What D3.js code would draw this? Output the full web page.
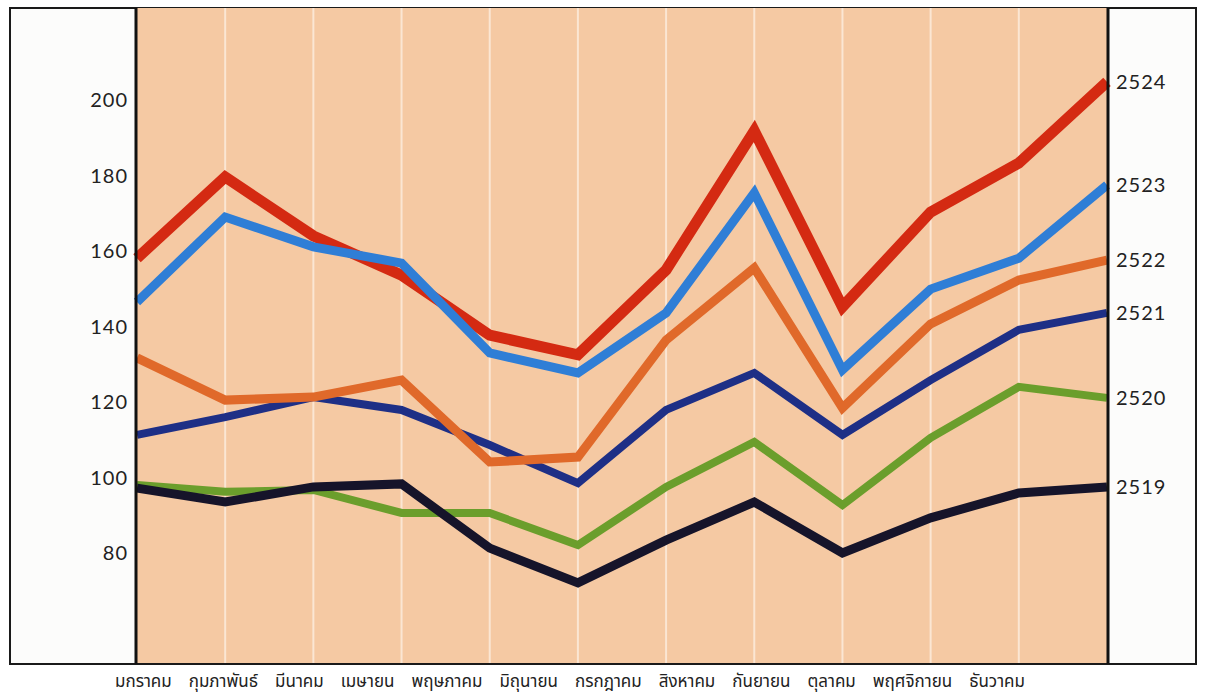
<!DOCTYPE html>
<html>
<head>
<meta charset="utf-8">
<script src="https://cdnjs.cloudflare.com/ajax/libs/d3/7.8.5/d3.min.js"></script>
<style>
  body { margin: 0; background: #fff; }
  svg { display: block; }
</style>
</head>
<body>
<div id="chart"></div>
<script>
// months (Thai)
var months = ["มกราคม", "กุมภาพันธ์", "มีนาคม", "เมษายน", "พฤษภาคม", "มิถุนายน",
              "กรกฎาคม", "สิงหาคม", "กันยายน", "ตุลาคม", "พฤศจิกายน", "ธันวาคม"];
var yTicks = [80, 100, 120, 140, 160, 180, 200];

// series values, one per year
var v2524 = [158.1, 179.6, 164.0, 153.6, 137.7, 132.5, 155.0, 191.8, 145.2, 170.3, 183.3, 204.8];
var v2523 = [146.5, 169.0, 161.1, 156.8, 133.0, 127.7, 143.6, 175.4, 128.5, 149.9, 158.1, 177.5];
var v2522 = [131.7, 120.5, 121.3, 125.8, 104.1, 105.4, 136.4, 155.5, 118.4, 140.7, 152.3, 157.6];
var v2521 = [111.3, 116.0, 121.3, 117.9, 108.6, 98.5, 117.9, 127.7, 111.3, 125.8, 139.1, 143.6];
var v2520 = [98.0, 96.2, 96.7, 90.6, 90.6, 82.1, 97.5, 109.4, 92.7, 110.5, 124.0, 121.1];
var v2519 = [97.2, 93.5, 97.5, 98.3, 81.3, 72.1, 83.4, 93.5, 80.0, 89.3, 95.9, 97.5];

// drawing order follows the overlaps in the picture
var series = [
    {year: "2521", values: v2521, color: "#1e2f86", width: 8},
    {year: "2522", values: v2522, color: "#e0692a", width: 9},
    {year: "2520", values: v2520, color: "#6b9e2c", width: 8},
    {year: "2519", values: v2519, color: "#16142a", width: 9},
    {year: "2524", values: v2524, color: "#d42a12", width: 11},
    {year: "2523", values: v2523, color: "#2f7ed6", width: 9}
];

var width = 1205, height = 699;
var frame = {left: 10, top: 8, right: 1196, bottom: 664};
var plot = {left: 137, right: 1107, top: 8, bottom: 663};

var svg = d3.select("#chart").append("svg")
    .attr("width", width).attr("height", height);

var x = d3.scalePoint().domain(months).range([plot.left, plot.right]);
var y = d3.scaleLinear().domain([80, 200]).range([553, 100]);

// outer frame
svg.append("rect")
    .attr("x", frame.left).attr("y", frame.top)
    .attr("width", frame.right - frame.left).attr("height", frame.bottom - frame.top)
    .attr("fill", "#fcfcfb").attr("stroke", "#1a1a1a").attr("stroke-width", 2);

// peach plot area
svg.append("rect")
    .attr("x", plot.left).attr("y", plot.top)
    .attr("width", plot.right - plot.left).attr("height", plot.bottom - plot.top)
    .attr("fill", "#f5c9a3");

// vertical grid lines
svg.append("g").selectAll("line")
    .data(months.slice(1, -1))
    .enter().append("line")
    .attr("x1", function(d) { return x(d); })
    .attr("x2", function(d) { return x(d); })
    .attr("y1", plot.top).attr("y2", plot.bottom)
    .attr("stroke", "#fbe6d3").attr("stroke-width", 2);

// the lines
var line = d3.line()
    .x(function(d, i) { return x(months[i]); })
    .y(function(d) { return y(d); });

svg.append("g").selectAll("path")
    .data(series)
    .enter().append("path")
    .attr("d", function(d) { return line(d.values); })
    .attr("fill", "none")
    .attr("stroke", function(d) { return d.color; })
    .attr("stroke-width", function(d) { return d.width; })
    .attr("stroke-linejoin", "miter");

// left and right axis lines
svg.append("line")
    .attr("x1", plot.left - 1).attr("x2", plot.left - 1)
    .attr("y1", frame.top).attr("y2", frame.bottom)
    .attr("stroke", "#111").attr("stroke-width", 3);
svg.append("line")
    .attr("x1", plot.right + 1).attr("x2", plot.right + 1)
    .attr("y1", frame.top).attr("y2", frame.bottom)
    .attr("stroke", "#111").attr("stroke-width", 3);

// y tick labels
svg.append("g").selectAll("text")
    .data(yTicks)
    .enter().append("text")
    .attr("x", 128)
    .attr("y", function(d) { return y(d); })
    .attr("dy", "0.35em")
    .attr("text-anchor", "end")
    .attr("font-family", "Lato, 'DejaVu Sans', sans-serif")
    .attr("font-size", 20)
    .attr("letter-spacing", 1)
    .attr("fill", "#222")
    .text(function(d) { return d; });

// year labels at line ends
svg.append("g").selectAll("text")
    .data(series)
    .enter().append("text")
    .attr("x", 1116)
    .attr("y", function(d) { return y(d.values[d.values.length - 1]); })
    .attr("dy", "0.35em")
    .attr("font-family", "Lato, 'DejaVu Sans', sans-serif")
    .attr("font-size", 20)
    .attr("letter-spacing", 1)
    .attr("fill", "#222")
    .text(function(d) { return d.year; });

// month labels, one run of words under the chart, spread to 115..1025
var mtext = svg.append("text")
    .attr("x", 115).attr("y", 687)
    .attr("font-family", "'Noto Sans Thai', 'Noto Sans', 'DejaVu Sans', sans-serif")
    .attr("font-size", 17)
    .attr("fill", "#222")
    .style("white-space", "pre")
    .text(months.join(" "));
var natural = mtext.node().getComputedTextLength();
var gap = (910 - natural) / (months.length - 1);
mtext.style("word-spacing", gap + "px");
</script>
</body>
</html>
